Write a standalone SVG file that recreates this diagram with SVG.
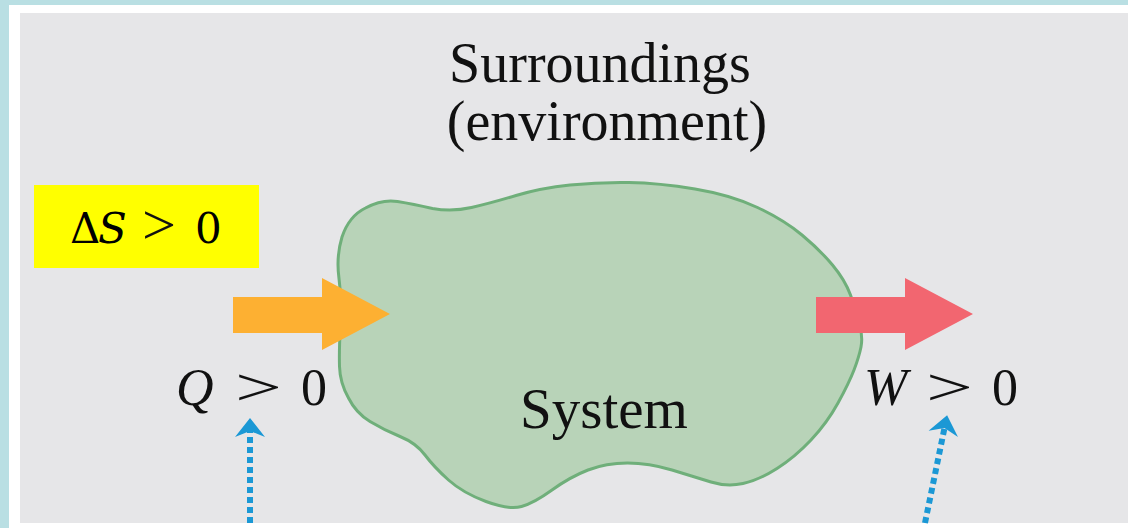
<svg xmlns="http://www.w3.org/2000/svg" width="1128" height="528" viewBox="0 0 1128 528">
<style>
.serif{font-family:"Liberation Serif","Times New Roman",serif;fill:#111}
.dv{font-family:"DejaVu Serif","Liberation Serif",serif;fill:#000}
.lbl{font-size:56px}
.math{font-size:52px}
.dot{stroke:#1b98d5;stroke-width:6;stroke-dasharray:6 4;fill:none}
</style>
<defs>
<marker id="head" markerUnits="userSpaceOnUse" viewBox="-8 -16 22 32" refX="0" refY="0" markerWidth="22" markerHeight="32" orient="auto">
<path d="M13,0 L-6,-15 L0,0 L-6,15 Z" fill="#1b98d5"/>
</marker>
</defs>
<rect x="0" y="0" width="1128" height="528" fill="#ffffff"/>
<rect x="0" y="0" width="1128" height="5" fill="#b9dfe3"/>
<rect x="0" y="0" width="9" height="528" fill="#b9dfe3"/>
<rect x="20" y="13" width="1108" height="510" fill="#e6e6e8"/>

<g id="surroundings">
<text class="serif lbl" x="600" y="82" text-anchor="middle">Surroundings</text>
<text class="serif lbl" x="607" y="140" text-anchor="middle">(environment)</text>
</g>

<g id="system">
<path d="M339,278.5 Q336,257 342,237 Q349,216 365.5,208 Q382,199 397.5,201.5 Q413,204 432.5,208.5 Q452,212 471.5,207.5 Q491,203 516,195.5 Q541,188 570,185 Q599,182 629,182.5 Q659,183 695,189 Q731,195 757.5,207.5 Q784,220 802,235 Q820,250 832.5,265 Q845,280 850.5,295 Q856,310 859.5,323.5 Q863,337 861,347 Q859,357 854,370 Q849,383 838,403 Q827,423 811,440 Q795,457 777,468.5 Q759,480 743,483.5 Q727,487 711,482 Q695,477 672,470 Q649,463 627.5,463 Q606,463 588,470 Q570,477 552,490 Q534,503 521.5,506.5 Q509,510 486,501.5 Q463,493 448.5,480 Q434,467 425,455 Q416,443 400,436.5 Q384,430 370,421.5 Q356,413 348.5,398 Q340,383 339.5,366.5 Q339,350 340.5,325 Q342,300 339,278.5 Z" fill="#b8d3b8" stroke="#6faf7a" stroke-width="3"/>
<text class="serif" x="604" y="428" font-size="57" text-anchor="middle">System</text>
</g>

<g id="entropy">
<rect x="34" y="185" width="225" height="83" fill="#ffff00"/>
<text class="dv" x="70" y="243" font-size="42">Δ</text>
<text class="dv" x="98" y="243" font-size="42" font-style="italic">S</text>
<text class="serif" x="142" y="244" font-size="58" fill="#000" textLength="34" lengthAdjust="spacingAndGlyphs">&gt;</text>
<text class="dv" x="195" y="243" font-size="42">0</text>
</g>

<g id="heat">
<path d="M233,297 H322 V278 L390,314 L322,350 V333 H233 Z" fill="#fdb032"/>
<text class="serif math" x="176" y="405" font-style="italic">Q</text>
<text class="serif math" x="235" y="405" textLength="47" lengthAdjust="spacingAndGlyphs">&gt;</text>
<text class="serif math" x="301" y="405">0</text>
</g>

<g id="work">
<path d="M816,297 H905 V278 L973,314 L905,350 V333 H816 Z" fill="#f26670"/>
<text class="serif math" x="864" y="405" font-style="italic">W</text>
<text class="serif math" x="926" y="405" textLength="47" lengthAdjust="spacingAndGlyphs">&gt;</text>
<text class="serif math" x="992" y="405">0</text>
</g>

<g id="connectors">
<line class="dot" x1="250" y1="523" x2="250" y2="431" marker-end="url(#head)"/>
<line class="dot" x1="925" y1="523" x2="944.5" y2="428" marker-end="url(#head)"/>
</g>
</svg>
